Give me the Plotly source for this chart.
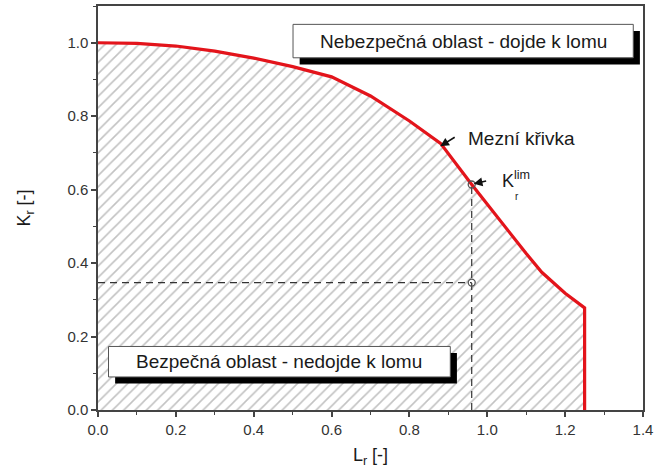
import plotly.graph_objects as go

# ---- data ----
lr_curve = [0.0, 0.1, 0.2, 0.3, 0.4, 0.5, 0.6, 0.7, 0.8, 0.88, 0.96, 1.0, 1.07, 1.1, 1.14, 1.2, 1.25, 1.25]
kr_curve = [1.0, 0.998, 0.991, 0.977, 0.958, 0.935, 0.907, 0.855, 0.787, 0.726, 0.614, 0.560, 0.465, 0.426, 0.375, 0.318, 0.278, 0.0]

lr_point = 0.96     # L_r of the assessed point
kr_lim = 0.614      # K_r^lim on the limit curve
kr_point = 0.347    # K_r of the assessed point

x_ticks = [0.0, 0.2, 0.4, 0.6, 0.8, 1.0, 1.2, 1.4]
y_ticks = [0.0, 0.2, 0.4, 0.6, 0.8, 1.0]

FONT = "Liberation Sans, Arial, sans-serif"
TXT = "#1a1a1a"
AX = "#444444"

fig = go.Figure()

# hatched safe region (polygon closed to the origin)
fig.add_trace(go.Scatter(
    x=lr_curve + [lr_curve[0]], y=kr_curve + [0.0],
    mode="none", fill="toself", fillcolor="white",
    fillpattern=dict(shape="/", fgcolor="#858585", bgcolor="white", size=8, solidity=0.2),
    hoverinfo="skip", showlegend=False))

# dashed guide lines
fig.add_trace(go.Scatter(x=[0, lr_point], y=[kr_point, kr_point], mode="lines",
                         line=dict(color="#333333", width=1.2, dash="7px,5px"),
                         showlegend=False, hoverinfo="skip"))
fig.add_trace(go.Scatter(x=[lr_point, lr_point], y=[0, kr_lim], mode="lines",
                         line=dict(color="#333333", width=1.2, dash="7px,5px"),
                         showlegend=False, hoverinfo="skip"))

# limit curve
fig.add_trace(go.Scatter(x=lr_curve, y=kr_curve, mode="lines",
                         line=dict(color="#e3141b", width=3.2),
                         showlegend=False))

# points
fig.add_trace(go.Scatter(x=[lr_point, lr_point], y=[kr_lim, kr_point], mode="markers",
                         marker=dict(symbol="circle-open", size=7, color="#555555",
                                     line=dict(width=1.3, color="#555555")),
                         showlegend=False))

# boxes with drop shadow
def box(x0, x1, y0, y1, dx=0.017, dy=0.018):
    fig.add_shape(type="rect", xref="x", yref="y", x0=x0 + dx, x1=x1 + dx, y0=y0 - dy, y1=y1 - dy,
                  fillcolor="black", line=dict(width=0), layer="above")
    fig.add_shape(type="rect", xref="x", yref="y", x0=x0, x1=x1, y0=y0, y1=y1,
                  fillcolor="white", line=dict(color="#555555", width=1), layer="above")

box(0.501, 1.375, 0.959, 1.050)
box(0.027, 0.905, 0.090, 0.173)

fig.add_annotation(x=(0.501 + 1.375) / 2, y=(0.959 + 1.050) / 2, xref="x", yref="y",
                   text="Nebezpečná oblast - dojde k lomu", showarrow=False,
                   font=dict(family=FONT, size=19, color=TXT))
fig.add_annotation(x=(0.027 + 0.905) / 2, y=(0.090 + 0.173) / 2, xref="x", yref="y",
                   text="Bezpečná oblast - nedojde k lomu", showarrow=False,
                   font=dict(family=FONT, size=19, color=TXT))

# Mezní křivka label + arrow
fig.add_annotation(x=0.879, y=0.718, xref="x", yref="y", text="", showarrow=True,
                   ax=16, ay=-10, arrowhead=2, arrowsize=1.1, arrowwidth=1.6, arrowcolor="#111111")
fig.add_annotation(x=0.945, y=0.74, xref="x", yref="y", text="Mezní křivka", showarrow=False,
                   xanchor="left", font=dict(family=FONT, size=19, color=TXT))

# K_r^lim label + arrow
fig.add_annotation(x=lr_point + 0.005, y=kr_lim + 0.002, xref="x", yref="y", text="", showarrow=True,
                   ax=14, ay=-3, arrowhead=2, arrowsize=1.1, arrowwidth=1.6, arrowcolor="#111111")
fig.add_annotation(x=1.033, y=0.627, xref="x", yref="y", text="K<sup>lim</sup>", showarrow=False,
                   xanchor="left", font=dict(family=FONT, size=18, color=TXT))
fig.add_annotation(x=1.067, y=0.582, xref="x", yref="y", text="r", showarrow=False,
                   xanchor="left", font=dict(family=FONT, size=10, color=TXT))

axis_common = dict(
    showline=True, linecolor=AX, linewidth=1.5, mirror=True,
    ticks="outside", ticklen=5, tickwidth=1.5, tickcolor=AX,
    showgrid=False, zeroline=False, tickformat=".1f", automargin=False,
    tickfont=dict(family=FONT, size=15, color="#333333"),
    minor=dict(ticks="outside", ticklen=3, tickwidth=1.2, tickcolor=AX, dtick=0.1, showgrid=False),
)

fig.update_layout(
    width=656, height=474,
    margin=dict(l=98, r=13, t=6, b=64),
    plot_bgcolor="white", paper_bgcolor="white",
    xaxis=dict(range=[0, 1.4], tickvals=x_ticks,
               title=dict(text="L<sub>r</sub> [-]", font=dict(family=FONT, size=18, color=TXT), standoff=12),
               **axis_common),
    yaxis=dict(range=[0, 1.1], tickvals=y_ticks,
               title=dict(text="K<sub>r</sub> [-]", font=dict(family=FONT, size=18, color=TXT), standoff=32),
               **axis_common),
)

fig.write_html("out.html", config={"displayModeBar": False},
               post_script="document.body.style.margin='0';document.body.style.padding='0';")
